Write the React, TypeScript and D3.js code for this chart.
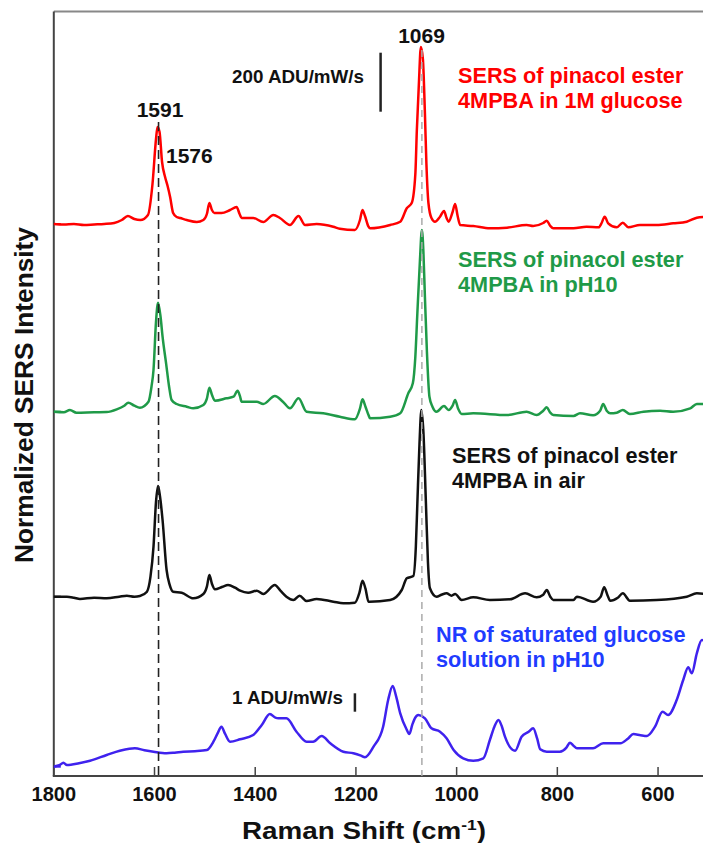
import React from "react";
import * as d3 from "d3";

// Raman shift ticks (cm-1)
const xTicks = [1800, 1600, 1400, 1200, 1000, 800, 600];

// Spectra: [Raman shift, relative intensity above own baseline] (normalized a.u.)
const glucoseSERS: [number, number][] = [
  [1800, 0], [1780, -0.5], [1760, 0], [1740, -1], [1720, -0.5], [1700, 0], [1680, 1], [1665, 4], [1653, 8], [1640, 5],
  [1628, 4], [1613, 9], [1604, 40], [1597, 85], [1594, 97], [1590, 92], [1585, 62], [1579, 47], [1574, 38], [1569, 27],
  [1563, 11], [1556, 7], [1549, 6], [1536, 4], [1516, 2], [1503, 4], [1496, 10], [1491, 21], [1486, 14], [1481, 11],
  [1467, 11], [1450, 14], [1437, 17], [1431, 10], [1427, 6], [1404, 6], [1384, 2], [1364, 9], [1351, 6], [1331, -1],
  [1314, 8], [1301, -1], [1278, 0], [1245, -2.7], [1232, -4.7], [1202, -6], [1192, 4], [1187, 14], [1182, 8], [1175, -2.7],
  [1172, -4.3], [1132, -1], [1112, 2.3], [1099, 15.7], [1089, 21.3], [1082, 50], [1079, 94], [1075, 140], [1071, 177],
  [1067, 165], [1063, 111], [1060, 60], [1056, 21], [1050, 6], [1043, 2.3], [1033, 7.3], [1025, 13], [1020, 6], [1016, 2.3],
  [1008, 12], [1003, 20], [998, 8], [993, -1], [967, -2], [934, -4.3], [900, -3.7], [861, -1], [848, -2], [828, 1],
  [821, 3.3], [814, -2], [808, -4.3], [768, -4.3], [742, -2.7], [718, -3.3], [712, 1], [706, 7.3], [699, 0.7], [682, -3.3],
  [670, 1.3], [659, -3.3], [636, -1], [603, -1], [570, 0.7], [543, 2.3], [523, 6.3], [505, 7.3],
];

const ph10SERS: [number, number][] = [
  [1800, 0], [1780, -0.5], [1768, 1.7], [1755, -1], [1720, -0.5], [1695, -0.3], [1675, 2.4], [1660, 6], [1652, 9], [1640, 6],
  [1629, 4], [1612, 10], [1606, 25], [1602, 41.7], [1597, 90], [1593, 109], [1588, 95], [1584, 75], [1577, 48.4], [1571, 25],
  [1566, 11.7], [1556, 7.7], [1536, 5], [1523, 3.4], [1503, 6.7], [1496, 13], [1491, 24], [1486, 17], [1480, 11], [1457, 13.4],
  [1443, 15], [1435, 21], [1430, 15], [1427, 10], [1397, 10], [1384, 7.7], [1361, 15.7], [1345, 10], [1331, 3.4], [1314, 13.4],
  [1298, 0], [1265, -1.6], [1232, -5], [1202, -7.6], [1192, 3], [1187, 12.4], [1181, 5], [1175, -3.3], [1172, -6.6], [1132, -5],
  [1112, -1.6], [1096, 18.4], [1087, 28.4], [1082, 55], [1078, 98.4], [1073, 150], [1069, 181.7], [1066, 160], [1063, 115],
  [1059, 60], [1054, 15], [1048, 5], [1040, 0], [1025, 5.7], [1016, 1.7], [1008, 6], [1003, 11.7], [997, 3], [990, -2.3],
  [967, -1.6], [900, -3.3], [861, 0], [841, -3.3], [828, 1], [821, 4.4], [814, -1], [808, -3.3], [768, -4.3], [755, -1.6],
  [729, -3.6], [715, 1], [709, 7.7], [702, 1], [695, -1.6], [682, -1], [670, 1.7], [656, -2.3], [629, 0], [596, 1],
  [570, 0], [536, 3.4], [523, 7.7], [505, 7.7],
];

const airSERS: [number, number][] = [
  [1800, 0], [1774, 0], [1760, -1], [1748, -2.3], [1720, -1], [1695, -1.6], [1670, 0], [1655, 1], [1640, 0], [1629, 0.7],
  [1615, 5], [1608, 20], [1602, 50], [1597, 95], [1593, 110.7], [1589, 100], [1584, 76.7], [1576, 26.7], [1570, 12], [1563, 5],
  [1546, 4], [1523, -1.6], [1503, 2.7], [1496, 10], [1491, 21.7], [1486, 13], [1480, 7.4], [1465, 10], [1454, 11.7], [1440, 9],
  [1430, 6], [1414, 4], [1397, 6], [1384, 2.7], [1361, 11.7], [1350, 6], [1338, 0], [1324, -3.3], [1312, 1], [1298, -4.3],
  [1278, -2.3], [1245, -5], [1225, -6.6], [1202, -6], [1193, 4], [1187, 16], [1181, 8], [1175, -5], [1173, -5], [1132, -3.3],
  [1109, 6.7], [1099, 18.4], [1086, 20.7], [1081, 50], [1078, 93.4], [1074, 150], [1070, 186.7], [1066, 165], [1061, 93.7],
  [1057, 35], [1053, 8.4], [1040, 0], [1030, 2], [1020, 3.4], [1010, 1], [1003, 2.7], [990, -3.3], [967, -0.6], [934, -3.3],
  [894, -2.6], [864, 3.4], [841, -0.6], [828, 2], [821, 6.7], [814, 0], [808, -3.3], [768, -3.3], [761, 0], [729, -5],
  [714, 0], [707, 9.4], [700, 1], [695, -4], [680, -1], [670, 3.4], [656, -4], [603, -3.3], [543, 0], [523, 3.4], [505, 2.7],
];

const nrGlucose: [number, number][] = [
  [1800, 0], [1793, 1], [1788, 1.7], [1781, 4], [1774, 1.7], [1750, 3.5], [1728, 6], [1695, 11.7], [1669, 16], [1650, 18],
  [1639, 18.4], [1620, 16.5], [1602, 15], [1576, 13.4], [1560, 14], [1543, 15], [1520, 15.5], [1496, 16.7], [1483, 25],
  [1475, 33], [1467, 40], [1460, 33], [1450, 25], [1430, 27.4], [1404, 31.7], [1387, 41.7], [1371, 52.7], [1360, 49],
  [1354, 48.4], [1338, 48.4], [1318, 35], [1298, 25], [1285, 25], [1268, 30.7], [1251, 23.4], [1225, 15], [1205, 13.4],
  [1190, 11], [1182, 9.4], [1165, 20], [1146, 40], [1136, 66.7], [1127, 80.7], [1120, 70], [1112, 53.4], [1100, 38],
  [1094, 32.7], [1088, 42], [1083, 48.4], [1076, 51.7], [1063, 48.4], [1050, 38.4], [1033, 35], [1020, 28.4], [1006, 16.7],
  [987, 8.4], [967, 6], [947, 8.4], [934, 26.7], [925, 40], [917, 46.7], [910, 40], [904, 30], [884, 16], [871, 30],
  [857, 35], [848, 38.4], [840, 28], [834, 17.4], [821, 15], [795, 15], [782, 19], [775, 24], [768, 21], [761, 18.4],
  [729, 18.4], [709, 23.4], [675, 23.4], [660, 28], [649, 32.7], [635, 31.5], [622, 30.7], [606, 40], [591, 55], [580, 51.7],
  [563, 66.7], [550, 86.7], [540, 99.4], [533, 93.4], [523, 113.4], [513, 126.7], [505, 125],
];

// vertical stacking offsets (a.u.) for each spectrum
const seriesOffsets = [552, 364.3, 179.3, 9.3];
const seriesColors = ["#ff0000", "#1f9a48", "#111111", "#3f22ee"];
const labelColors = ["#ff0000", "#1f9a48", "#111111", "#1f3cff"];
const seriesLabels = [
  ["SERS of pinacol ester", "4MPBA in 1M glucose"],
  ["SERS of pinacol ester", "4MPBA in pH10"],
  ["SERS of pinacol ester", "4MPBA in air"],
  ["NR of saturated glucose", "solution in pH10"],
];
const labelAnchors = [
  [458, 83],
  [458, 267],
  [452, 463],
  [436, 642],
];

// peak markers
const peakBlack = 1592;
const peak1069 = 1069;

const FONT = "'Liberation Sans', Arial, Helvetica, sans-serif";

export default function App() {
  const W = 703;
  const H = 843;
  const x = d3.scaleLinear().domain([1800, 500]).range([53.8, 708.4]);
  const y = d3.scaleLinear().domain([0, 764.5]).range([776, 11.5]);
  const series = [glucoseSERS, ph10SERS, airSERS, nrGlucose];

  const paths = series.map((s, i) =>
    d3
      .line<[number, number]>()
      .x((d) => x(d[0]))
      .y((d) => y(d[1] + seriesOffsets[i]))
      .curve(d3.curveMonotoneX)(s) as string
  );

  const yBottom = y(0);
  const yTop = y(764.5);
  const xLeft = x(1800);

  return (
    <svg
      width={W}
      height={H}
      style={{ position: "absolute", left: 0, top: 0, background: "#fff" }}
      fontFamily={FONT}
      fontWeight="bold"
    >
      <defs>
        <clipPath id="plot">
          <rect x={xLeft} y={0} width={W - xLeft} height={yBottom} />
        </clipPath>
      </defs>
      <rect x={0} y={0} width={W} height={H} fill="#fff" />

      {/* frame */}
      <line x1={xLeft} x2={W} y1={yTop} y2={yTop} stroke="#888" strokeWidth={2} />
      <line x1={xLeft} x2={xLeft} y1={yTop} y2={yBottom} stroke="#444" strokeWidth={2} />
      <line x1={xLeft - 1} x2={W} y1={yBottom} y2={yBottom} stroke="#444" strokeWidth={2} />

      {/* ticks */}
      {xTicks.map((t) => (
        <g key={t}>
          <line x1={x(t)} x2={x(t)} y1={yBottom} y2={yBottom - 9} stroke="#444" strokeWidth={1.5} />
          <text x={x(t)} y={801} textAnchor="middle" fontSize={20} fill="#111">
            {t}
          </text>
        </g>
      ))}

      {/* baseline markers on the left axis */}
      {seriesOffsets.map((o, i) => (
        <line key={i} x1={xLeft} x2={xLeft + 7} y1={y(o)} y2={y(o)} stroke={seriesColors[i]} strokeWidth={2} />
      ))}

      <g clipPath="url(#plot)">
        {paths.map((p, i) => (
          <path key={i} d={p} fill="none" stroke={seriesColors[i]} strokeWidth={2.5} strokeLinejoin="round" />
        ))}
        {/* peak guide lines */}
        <line x1={x(peakBlack)} x2={x(peakBlack)} y1={122} y2={yBottom} stroke="#222" strokeWidth={1.6} strokeDasharray="9,5" />
        <line x1={x(peak1069)} x2={x(peak1069)} y1={50} y2={yBottom} stroke="#aaa" strokeWidth={1.5} strokeDasharray="7,5" />
      </g>

      {/* peak labels */}
      <text x={160} y={116.5} textAnchor="middle" fontSize={21} fill="#111">1591</text>
      <text x={166} y={163} fontSize={21} fill="#111">1576</text>
      <text x={421.5} y={43} textAnchor="middle" fontSize={21} fill="#111">1069</text>

      {/* scale bars */}
      <text x={232} y={83} fontSize={19} fill="#111" textLength={132} lengthAdjust="spacingAndGlyphs">200 ADU/mW/s</text>
      <line x1={x(1151)} x2={x(1151)} y1={y(723.3)} y2={y(664.3)} stroke="#222" strokeWidth={2.5} />
      <text x={232} y={704} fontSize={19} fill="#111" textLength={111} lengthAdjust="spacingAndGlyphs">1 ADU/mW/s</text>
      <line x1={x(1202)} x2={x(1202)} y1={y(82.7)} y2={y(64.3)} stroke="#222" strokeWidth={2.5} />

      {/* series labels */}
      {seriesLabels.map((lines, i) => (
        <g key={i}>
          {lines.map((l, j) => (
            <text key={j} x={labelAnchors[i][0]} y={labelAnchors[i][1] + j * 25} fontSize={21.7} fill={labelColors[i]}>
              {l}
            </text>
          ))}
        </g>
      ))}

      {/* axis titles */}
      <text x={364} y={839} textAnchor="middle" fontSize={24} fill="#111" textLength={244} lengthAdjust="spacingAndGlyphs">
        Raman Shift (cm
        <tspan fontSize={15} dy={-9}>-1</tspan>
        <tspan dy={9}>)</tspan>
      </text>
      <text
        transform="translate(33,395) rotate(-90)"
        textAnchor="middle"
        fontSize={25.5}
        fill="#111"
        textLength={336}
        lengthAdjust="spacingAndGlyphs"
      >
        Normalized SERS Intensity
      </text>
    </svg>
  );
}
